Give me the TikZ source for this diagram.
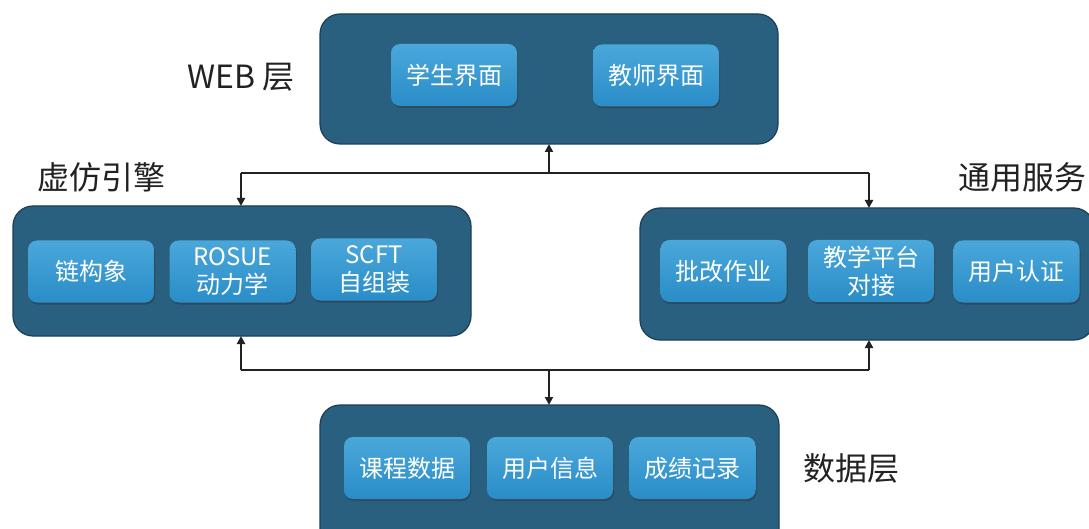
\documentclass[tikz,border=0pt]{standalone}
\usepackage{fontspec}
\setmainfont{Noto Sans CJK SC}
\usetikzlibrary{shadows,arrows.meta}
\definecolor{outerfill}{HTML}{29607F}
\definecolor{outerline}{HTML}{1C3E54}
\definecolor{innertop}{HTML}{4AA7DA}
\definecolor{innerbot}{HTML}{2A8DC8}
\definecolor{linecol}{HTML}{222222}
\definecolor{labelcol}{HTML}{222222}
\tikzset{
  layerbox/.style={draw=outerline, line width=1.2pt, fill=outerfill, rounded corners=20pt},
  modbox/.style={rounded corners=9pt, top color=innertop, bottom color=innerbot, draw=none,
    drop shadow={opacity=0.45, shadow xshift=1pt, shadow yshift=-2pt, fill=black!80},
    text=white, font=\fontsize{24}{28}\selectfont, align=center, inner sep=0pt,
    minimum width=126pt, minimum height=62pt},
  layerlabel/.style={text=labelcol, font=\fontsize{32}{36}\selectfont, inner sep=0pt},
  conn/.style={draw=linecol, line width=2.2pt, -{Triangle[length=8pt,width=8pt]}},
  bus/.style={draw=linecol, line width=2.2pt}
}
\begin{document}
\begin{tikzpicture}[x=1pt,y=-1pt]
\clip (0,0) rectangle (1089,529);
\fill[white] (0,0) rectangle (1089,529);
% layer boxes
\draw[layerbox] (320,14) rectangle (778,144);
\coordinate (webS) at (549,144);
\draw[layerbox] (13,206) rectangle (471,336);
\draw[layerbox] (640,208) rectangle (1094,340);
\draw[layerbox] (320,405) rectangle (779,560);
\coordinate (engN) at (241,206);
\coordinate (engS) at (241,336);
\coordinate (svcN) at (869,208);
\coordinate (svcS) at (869,340);
\coordinate (dataN) at (549,405);
% modules
\node[modbox] (stu) at (454,75) {学生界面};
\node[modbox] (tea) at (656,75.5) {教师界面};
\node[modbox] (chain) at (91,271.5) {链构象};
\node[modbox] (rosue) at (232.5,271.5) {ROSUE\\动力学};
\node[modbox] (scft) at (374,269.5) {SCFT\\自组装};
\node[modbox] (grade) at (723.5,271) {批改作业};
\node[modbox] (plat) at (871,271) {教学平台\\对接};
\node[modbox] (auth) at (1016.5,271.5) {用户认证};
\node[modbox] (course) at (407,468) {课程数据};
\node[modbox] (uinfo) at (550,468) {用户信息};
\node[modbox] (score) at (692.5,468) {成绩记录};
% labels
\node[layerlabel] (lweb) at (241,77) {WEB 层};
\node[layerlabel] (leng) at (101,177) {虚仿引擎};
\node[layerlabel] (lsvc) at (1022,177) {通用服务};
\node[layerlabel] (ldata) at (851,468) {数据层};
% upper bus
\coordinate (ub) at (549,173);
\coordinate (ubL) at (241,173);
\coordinate (ubR) at (869,173);
\draw[bus] (ubL) -- (ubR);
\draw[conn] (ub) -- (webS);
\draw[conn] (ubL) -- (engN);
\draw[conn] (ubR) -- (svcN);
% lower bus
\coordinate (lb) at (549,370);
\coordinate (lbL) at (241,370);
\coordinate (lbR) at (869,370);
\draw[bus] (lbL) -- (lbR);
\draw[conn] (lbL) -- (engS);
\draw[conn] (lbR) -- (svcS);
\draw[conn] (lb) -- (dataN);
\end{tikzpicture}
\end{document}
